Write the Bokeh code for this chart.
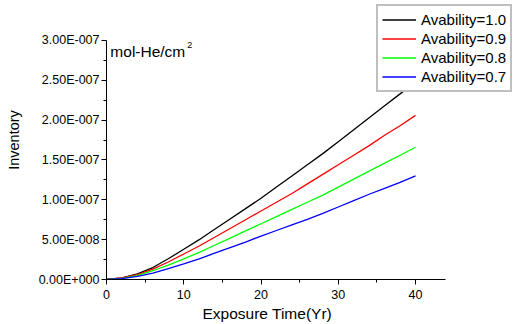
from bokeh.plotting import figure
from bokeh.models import (FixedTicker, CustomJSTickFormatter, Legend, LegendItem, Label, Range1d, Title)
from bokeh.embed import file_html
from bokeh.resources import INLINE

# ---- data ----
years = [0, 2, 4, 6, 8, 10, 12, 14, 16, 18, 20, 22, 24, 26, 28, 30, 32, 34, 36, 38, 40]
avail_10 = [0, 0.02e-7, 0.07e-7, 0.15e-7, 0.26e-7, 0.38e-7, 0.50e-7, 0.63e-7, 0.76e-7, 0.89e-7, 1.02e-7,
            1.16e-7, 1.30e-7, 1.44e-7, 1.58e-7, 1.73e-7, 1.88e-7, 2.03e-7, 2.18e-7, 2.33e-7, 2.48e-7]
avail_09 = [0, 0.02e-7, 0.06e-7, 0.13e-7, 0.22e-7, 0.32e-7, 0.42e-7, 0.53e-7, 0.64e-7, 0.75e-7, 0.86e-7,
            0.97e-7, 1.08e-7, 1.20e-7, 1.32e-7, 1.44e-7, 1.56e-7, 1.68e-7, 1.81e-7, 1.93e-7, 2.06e-7]
avail_08 = [0, 0.015e-7, 0.05e-7, 0.11e-7, 0.18e-7, 0.26e-7, 0.34e-7, 0.43e-7, 0.52e-7, 0.61e-7, 0.70e-7,
            0.79e-7, 0.88e-7, 0.97e-7, 1.06e-7, 1.16e-7, 1.26e-7, 1.36e-7, 1.46e-7, 1.56e-7, 1.66e-7]
avail_07 = [0, 0.012e-7, 0.04e-7, 0.08e-7, 0.135e-7, 0.195e-7, 0.26e-7, 0.33e-7, 0.40e-7, 0.47e-7, 0.545e-7,
            0.615e-7, 0.685e-7, 0.755e-7, 0.83e-7, 0.91e-7, 0.99e-7, 1.07e-7, 1.145e-7, 1.22e-7, 1.30e-7]
series_labels = ["Avability=1.0", "Avability=0.9", "Avability=0.8", "Avability=0.7"]
series_colors = ["#000000", "#ff0000", "#00ff00", "#0000ff"]

x_ticks = [0, 10, 20, 30, 40]
x_minor = [5, 15, 25, 35]
y_ticks = [0, 0.5e-7, 1.0e-7, 1.5e-7, 2.0e-7, 2.5e-7, 3.0e-7]
y_minor = [0.25e-7, 0.75e-7, 1.25e-7, 1.75e-7, 2.25e-7, 2.75e-7]
x_axis_end = 43.9
y_axis_end = 3.0e-7

FONT = "Liberation Sans"

p = figure(width=517, height=324, output_backend="svg", toolbar_location=None,
           x_range=Range1d(0, 53.2), y_range=Range1d(0, 3.502e-7),
           frame_width=411, frame_height=279,
           min_border_left=106, min_border_right=0, min_border_top=0, min_border_bottom=45)
p.outline_line_color = None
p.xgrid.visible = False
p.ygrid.visible = False
p.background_fill_color = "white"
p.border_fill_color = "white"

renderers = []
for ys, c in zip([avail_10, avail_09, avail_08, avail_07], series_colors):
    r = p.line(years, ys, line_color=c, line_width=1.3)
    renderers.append(r)

# axes
xa = p.xaxis[0]
xa.ticker = FixedTicker(ticks=x_ticks, minor_ticks=x_minor)
xa.bounds = (0, x_axis_end)
xa.major_label_text_font = FONT
xa.major_label_text_font_size = "12.5px"
xa.major_label_standoff = 5

ya = p.yaxis[0]
ya.ticker = FixedTicker(ticks=y_ticks, minor_ticks=y_minor)
ya.bounds = (0, y_axis_end)
ya.formatter = CustomJSTickFormatter(code="""
    const s = tick.toExponential(2);
    const parts = s.split('e');
    const sign = parts[1][0];
    let exp = parts[1].slice(1);
    while (exp.length < 3) exp = '0' + exp;
    return parts[0] + 'E' + sign + exp;
""")
ya.major_label_text_font = FONT
ya.major_label_text_font_size = "12.5px"
ya.major_label_standoff = 2
ya.axis_label = "Inventory"
ya.axis_label_text_font = FONT
ya.axis_label_text_font_size = "14.5px"
ya.axis_label_text_font_style = "normal"
ya.axis_label_text_color = "black"
ya.axis_label_standoff = 14

for ax in (xa, ya):
    ax.axis_line_color = "black"
    ax.major_tick_line_color = "black"
    ax.minor_tick_line_color = "black"
    ax.major_tick_out = 5
    ax.major_tick_in = 0
    ax.minor_tick_out = 3
    ax.minor_tick_in = 0
    ax.major_label_text_color = "black"

# x axis title
p.add_layout(Title(text="Exposure Time(Yr)", align="left", offset=96, text_font=FONT,
                   text_font_size="15.5px", text_font_style="normal", text_color="black",
                   standoff=2), "below")

# units label
p.add_layout(Label(x=0.5, y=2.862e-7, text="mol-He/cm", text_font=FONT,
                   text_font_size="15.5px", text_baseline="alphabetic", text_color="black"))
p.add_layout(Label(x=10.45, y=2.94e-7, text="2", text_font=FONT,
                   text_font_size="9px", text_baseline="alphabetic", text_color="black"))

legend = Legend(items=[LegendItem(label=l, renderers=[r]) for l, r in zip(series_labels, renderers)],
                location=(270, 187))
legend.label_text_font = FONT
legend.label_text_font_size = "15px"
legend.label_text_color = "black"
legend.glyph_width = 34
legend.glyph_height = 19
legend.label_height = 19
legend.label_standoff = 5
legend.spacing = 0
legend.padding = 4
legend.margin = 0
legend.border_line_color = "#808080"
legend.border_line_width = 2
legend.background_fill_color = "white"
legend.background_fill_alpha = 1
p.add_layout(legend)

open("out.html", "w").write(file_html(p, INLINE))
